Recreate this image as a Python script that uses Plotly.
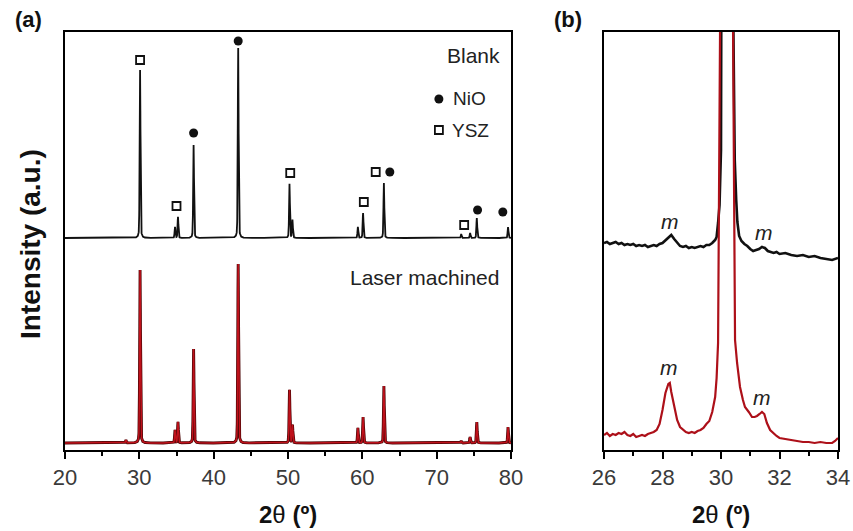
import numpy as np
import plotly.graph_objects as go

W, H = 853, 531

# ---------------- Panel (a): full XRD patterns, 20-80 deg ----------------
# Reflection positions (2theta, deg) and peak heights above each baseline (a.u.)
peak_pos = [28.2, 30.1, 34.8, 35.2, 37.3, 43.3, 50.2, 50.6, 59.4, 60.1, 62.9, 73.3, 74.5, 75.4, 79.6]
blank_height = [0, 168, 11, 21, 93, 190, 54, 18, 11, 25, 55, 4, 5, 20, 11]
laser_height = [3, 173, 13, 21, 94, 179, 53, 18, 15, 26, 57, 2, 6, 21, 16]
blank_base = 212   # vertical offset of the Blank pattern
laser_base = 7     # vertical offset of the Laser machined pattern

# Phase markers placed above the reflections
ysz_x = [30.1, 35.0, 50.3, 60.2, 61.8, 73.7]
ysz_y = [390, 244, 277, 248, 278, 225]
nio_x = [37.3, 43.3, 63.7, 75.5, 78.9]
nio_y = [317, 409, 278, 240, 238]

# ---------------- Panel (b): zoom on 26-34 deg ----------------
b_blank_x = [26.0, 26.1, 26.2, 26.3, 26.4, 26.5, 26.6, 26.7, 26.8, 26.9, 27.0, 27.1, 27.2, 27.3,
             27.4, 27.5, 27.6, 27.7, 27.8, 27.9, 28.0, 28.1, 28.2, 28.3, 28.4, 28.5, 28.6, 28.7,
             28.8, 28.9, 29.0, 29.1, 29.2, 29.3, 29.4, 29.5, 29.6, 29.7, 29.8, 29.85, 29.9, 29.95,
             30.0, 30.03, 30.2, 30.41, 30.47, 30.52, 30.56, 30.62, 30.7, 30.8, 30.9, 31.0, 31.1,
             31.2, 31.3, 31.4, 31.5, 31.6, 31.7, 31.8, 31.9, 32.0, 32.2, 32.4, 32.6, 32.8, 33.0,
             33.2, 33.4, 33.6, 33.8, 34.0]
b_blank_y = [207, 208, 206, 207, 208, 206, 207, 205, 206, 205, 206, 204, 205, 204,
             205, 203, 204, 205, 204, 206, 207, 210, 213, 215, 211, 207, 204, 203,
             204, 202, 203, 202, 203, 204, 203, 205, 205, 207, 210, 213, 227, 245,
             300, 460, 3000, 460, 290, 250, 228, 214, 209, 206, 204, 201, 199,
             200, 201, 203, 202, 199, 198, 197, 198, 196, 197, 195, 194, 195, 193,
             194, 192, 191, 190, 192]

b_laser_x = [26.0, 26.1, 26.2, 26.3, 26.4, 26.5, 26.6, 26.7, 26.8, 26.9, 27.0, 27.1, 27.2, 27.3,
             27.4, 27.5, 27.6, 27.7, 27.8, 27.9, 28.0, 28.1, 28.2, 28.25, 28.3, 28.4, 28.5, 28.6,
             28.7, 28.8, 28.9, 29.0, 29.1, 29.2, 29.3, 29.4, 29.5, 29.6, 29.7, 29.8, 29.85, 29.9,
             29.97, 30.2, 30.41, 30.48, 30.55, 30.65, 30.75, 30.82, 30.95, 31.06, 31.15, 31.23,
             31.32, 31.4, 31.48, 31.57, 31.68, 31.78, 31.9, 32.0, 32.2, 32.4, 32.6, 32.8, 33.0,
             33.2, 33.4, 33.6, 33.8, 33.9, 34.0]
b_laser_y = [15, 17, 14, 16, 15, 17, 16, 18, 15, 14, 16, 13, 14, 15,
             14, 16, 17, 18, 20, 26, 40, 57, 66, 67, 58, 42, 30, 23,
             20, 18, 17, 18, 17, 19, 20, 22, 26, 29, 38, 53, 72, 107,
             430, 3000, 430, 110, 87, 63, 50, 43, 38, 33, 33, 34,
             36, 38, 36, 27, 20, 17, 14, 12, 11, 10, 9, 8, 8,
             7, 8, 7, 7, 9, 12]

BLACK = "#111111"
RED = "#bf111b"
DARK_RED = "#4a0606"
FONT = "Liberation Sans, Arial, sans-serif"

grid = np.arange(20.0, 80.0001, 0.01)


def pattern(base, heights, fwhm=0.13, eta=0.3):
    """Pseudo-Voigt reflections from the peak table on top of a flat baseline."""
    y = np.full_like(grid, float(base))
    for p, h in zip(peak_pos, heights):
        d = (grid - p) / (fwhm / 2)
        y += h * (eta / (1 + d ** 2) + (1 - eta) * np.exp(-np.log(2) * d ** 2))
    return y


fig = go.Figure()

# Panel (a) patterns
fig.add_trace(go.Scatter(x=grid, y=pattern(blank_base, blank_height), mode="lines",
                         line=dict(color=BLACK, width=1.8), xaxis="x", yaxis="y",
                         showlegend=False, hoverinfo="skip"))
laser_a = pattern(laser_base, laser_height)
fig.add_trace(go.Scatter(x=grid, y=laser_a, mode="lines",
                         line=dict(color=DARK_RED, width=2.9), xaxis="x", yaxis="y",
                         showlegend=False, hoverinfo="skip"))
fig.add_trace(go.Scatter(x=grid, y=laser_a, mode="lines",
                         line=dict(color=RED, width=1.5), xaxis="x", yaxis="y",
                         showlegend=False, hoverinfo="skip"))

# Phase markers
fig.add_trace(go.Scatter(x=ysz_x, y=ysz_y, mode="markers", xaxis="x", yaxis="y",
                         marker=dict(symbol="square-open", size=8, color=BLACK,
                                     line=dict(width=1.8, color=BLACK)),
                         showlegend=False, hoverinfo="skip"))
fig.add_trace(go.Scatter(x=nio_x, y=nio_y, mode="markers", xaxis="x", yaxis="y",
                         marker=dict(symbol="circle", size=9, color=BLACK),
                         showlegend=False, hoverinfo="skip"))

# Key for the phase markers
fig.add_trace(go.Scatter(x=[70.3], y=[351], mode="markers", xaxis="x", yaxis="y",
                         marker=dict(symbol="circle", size=9, color=BLACK),
                         showlegend=False, hoverinfo="skip"))
fig.add_trace(go.Scatter(x=[70.3], y=[320], mode="markers", xaxis="x", yaxis="y",
                         marker=dict(symbol="square-open", size=8, color=BLACK,
                                     line=dict(width=1.8, color=BLACK)),
                         showlegend=False, hoverinfo="skip"))

# Panel (b) patterns
fig.add_trace(go.Scatter(x=b_blank_x, y=b_blank_y, mode="lines",
                         line=dict(color=BLACK, width=2.6), xaxis="x2", yaxis="y2",
                         showlegend=False, hoverinfo="skip"))
fig.add_trace(go.Scatter(x=b_laser_x, y=b_laser_y, mode="lines",
                         line=dict(color="#ad1019", width=2.2), xaxis="x2", yaxis="y2",
                         showlegend=False, hoverinfo="skip"))

axis_common = dict(showline=True, linecolor="black", linewidth=1.8, mirror=True,
                   showgrid=False, zeroline=False, automargin=False)
xtick = dict(ticks="outside", ticklen=7, tickwidth=1.5, tickcolor="black",
             tickfont=dict(family=FONT, size=22, color="#3a3a3a"))

fig.update_layout(
    width=W, height=H,
    margin=dict(l=0, r=0, t=0, b=0, pad=0),
    paper_bgcolor="white", plot_bgcolor="white",
    xaxis=dict(domain=[65 / W, 511 / W], range=[20, 80], tickvals=list(range(20, 81, 10)),
               minor=dict(dtick=5, ticks="outside", ticklen=4, tickwidth=1.5, tickcolor="black"),
               anchor="y", **xtick, **axis_common),
    yaxis=dict(domain=[1 - 450 / H, 1 - 32 / H], range=[0, 418], showticklabels=False,
               ticks="", anchor="x", **axis_common),
    xaxis2=dict(domain=[604 / W, 838 / W], range=[26, 34], tickvals=list(range(26, 35, 2)),
                minor=dict(dtick=1, ticks="outside", ticklen=4, tickwidth=1.5, tickcolor="black"),
                anchor="y2", **xtick, **axis_common),
    yaxis2=dict(domain=[1 - 450 / H, 1 - 32 / H], range=[0, 418], showticklabels=False,
                ticks="", anchor="x2", **axis_common),
)


def px(x):
    return x / W


def py(y):
    return 1 - y / H


text_font = dict(family=FONT, size=21, color="#222222")
label_font = dict(family=FONT, size=19, color="#222222")
m_font = dict(family=FONT, size=21, color="#222222")
title_font = dict(family=FONT, size=24, color="#111111")
notes = [
    dict(x=px(28), y=py(19), text="<b>(a)</b>", font=dict(family=FONT, size=22, color="#111111")),
    dict(x=px(568), y=py(19), text="<b>(b)</b>", font=dict(family=FONT, size=22, color="#111111")),
    dict(x=px(502), y=py(56), text="Blank", xanchor="right", font=text_font),
    dict(x=px(501), y=py(277), text="Laser machined", xanchor="right", font=text_font),
    dict(x=px(451), y=py(99), text="NiO", xanchor="left", font=label_font),
    dict(x=px(450), y=py(130), text="YSZ", xanchor="left", font=label_font),
    dict(x=px(288), y=py(514), text="<b>2</b>θ<b> (º)</b>", font=title_font),
    dict(x=px(721), y=py(514), text="<b>2</b>θ<b> (º)</b>", font=title_font),
    dict(x=px(30), y=py(244), text="<b>Intensity (a.u.)</b>", textangle=-90,
         font=dict(family=FONT, size=28, color="#111111")),
    dict(x=px(670), y=py(222), text="<i>m</i>", font=m_font),
    dict(x=px(764), y=py(232), text="<i>m</i>", font=m_font),
    dict(x=px(669), y=py(367), text="<i>m</i>", font=m_font),
    dict(x=px(762), y=py(397), text="<i>m</i>", font=m_font),
]
for n in notes:
    n.setdefault("xanchor", "center")
    fig.add_annotation(xref="paper", yref="paper", showarrow=False, yanchor="middle", **n)

fig.write_html("out.html")
